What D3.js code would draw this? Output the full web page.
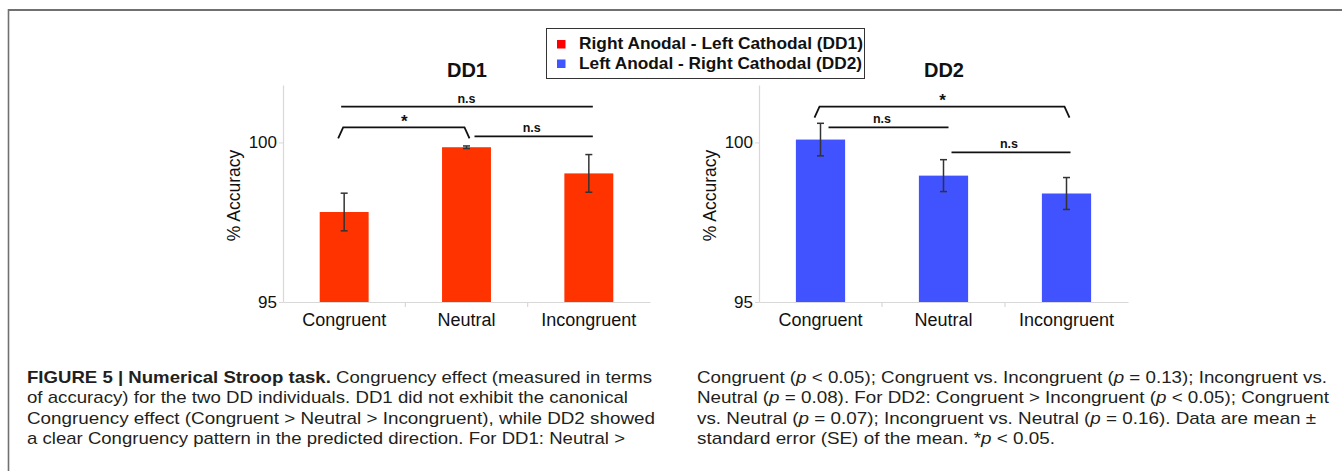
<!DOCTYPE html>
<html>
<head>
<meta charset="utf-8">
<script src="https://cdn.jsdelivr.net/npm/d3@7"></script>
<style>
  html, body { margin: 0; padding: 0; background: #fff; }
  svg { display: block; }
</style>
</head>
<body>
<svg id="chart" width="1342" height="471"></svg>
<script>
// ---------------- data ----------------
const categories = ["Congruent", "Neutral", "Incongruent"];
const dd1Means = [97.82, 99.85, 99.03];
const dd1SE = [0.59, 0.04, 0.59];
const dd2Means = [100.09, 98.96, 98.40];
const dd2SE = [0.51, 0.50, 0.50];
const yDomain = [95, 101.8];
const yTicks = [95, 100];
const legendLabels = ["Right Anodal - Left Cathodal (DD1)", "Left Anodal - Right Cathodal (DD2)"];
const panelTitles = ["DD1", "DD2"];
const yLabel = "% Accuracy";
// significance brackets: from/to category index, level (value units), label, legs (bracket ends drop)
const dd1Sig = [
  { from: 0, to: 2, level: 101.12, label: "n.s", legs: false },
  { from: 0, to: 1, level: 100.47, label: "*", legs: true },
  { from: 1, to: 2, level: 100.19, label: "n.s", legs: false }
];
const dd2Sig = [
  { from: 0, to: 2, level: 101.12, label: "*", legs: true },
  { from: 0, to: 1, level: 100.47, label: "n.s", legs: false },
  { from: 1, to: 2, level: 99.69, label: "n.s", legs: false }
];

// caption lines (segments: [text, style]) style: b = bold, i = italic, r = regular
const captionCol1 = [
  [["FIGURE 5 | Numerical Stroop task.", "b"], [" Congruency effect (measured in terms", "r"]],
  [["of accuracy) for the two DD individuals. DD1 did not exhibit the canonical", "r"]],
  [["Congruency effect (Congruent > Neutral > Incongruent), while DD2 showed", "r"]],
  [["a clear Congruency pattern in the predicted direction. For DD1: Neutral >", "r"]]
];
const captionCol2 = [
  [["Congruent (", "r"], ["p", "i"], [" < 0.05); Congruent vs. Incongruent (", "r"], ["p", "i"], [" = 0.13); Incongruent vs.", "r"]],
  [["Neutral (", "r"], ["p", "i"], [" = 0.08). For DD2: Congruent > Incongruent (", "r"], ["p", "i"], [" < 0.05); Congruent", "r"]],
  [["vs. Neutral (", "r"], ["p", "i"], [" = 0.07); Incongruent vs. Neutral (", "r"], ["p", "i"], [" = 0.16). Data are mean ±", "r"]],
  [["standard error (SE) of the mean. *", "r"], ["p", "i"], [" < 0.05.", "r"]]
];
const captionWidths1 = [625, 601, 628, 598];
const captionWidths2 = [630, 632, 619, 358];

// ---------------- drawing ----------------
const svg = d3.select("#chart");
const FONT = "'Liberation Sans', Arial, Helvetica, sans-serif";

// frame
svg.append("line").attr("x1", 8).attr("x2", 1342).attr("y1", 10).attr("y2", 10)
  .attr("stroke", "#707070").attr("stroke-width", 2);
svg.append("line").attr("x1", 8.5).attr("x2", 8.5).attr("y1", 9).attr("y2", 471)
  .attr("stroke", "#707070").attr("stroke-width", 1.6);

const panels = [
  { title: panelTitles[0], means: dd1Means, se: dd1SE, sig: dd1Sig, color: "#ff3300",
    x0: 283, x1: 650, titleX: 467 },
  { title: panelTitles[1], means: dd2Means, se: dd2SE, sig: dd2Sig, color: "#4152ff",
    x0: 759, x1: 1128, titleX: 944 }
];

const yTop = 85, yBottom = 302;

panels.forEach(p => {
  const g = svg.append("g");
  const x = d3.scaleBand().domain(categories).range([p.x0, p.x1])
    .paddingInner(0.6).paddingOuter(0.3);
  const y = d3.scaleLinear().domain(yDomain).range([yBottom, yTop]);

  // y axis
  const ya = g.append("g").attr("transform", `translate(${p.x0},0)`)
    .call(d3.axisLeft(y).tickValues(yTicks).tickFormat(d3.format("d")).tickSize(4).tickSizeOuter(0).tickPadding(2));
  ya.select(".domain").attr("stroke", "#d8d8d8").attr("stroke-width", 1.2);
  ya.selectAll(".tick line").attr("stroke", "#d8d8d8");
  ya.selectAll(".tick text").attr("font-family", FONT).attr("font-size", 17).attr("fill", "#111");

  // x axis
  const xa = g.append("g").attr("transform", `translate(0,${yBottom})`)
    .call(d3.axisBottom(x).tickSize(0).tickSizeOuter(0).tickPadding(11));
  xa.select(".domain").attr("stroke", "#d8d8d8").attr("stroke-width", 1.2);
  xa.selectAll(".tick text").attr("font-family", FONT).attr("font-size", 18).attr("fill", "#111");
  // boundary ticks between categories
  const bounds = categories.slice(1).map(c => x(c) - x.step() * x.paddingInner() / 2);
  g.selectAll("line.bt").data(bounds).join("line").attr("class", "bt")
    .attr("x1", d => d).attr("x2", d => d).attr("y1", yBottom).attr("y2", yBottom + 5)
    .attr("stroke", "#d8d8d8").attr("stroke-width", 1.2);

  // bars
  g.selectAll("rect.bar").data(p.means).join("rect").attr("class", "bar")
    .attr("x", (d, i) => x(categories[i]))
    .attr("width", x.bandwidth())
    .attr("y", d => y(d))
    .attr("height", d => yBottom - y(d))
    .attr("fill", p.color);

  // error bars
  const cx = i => x(categories[i]) + x.bandwidth() / 2;
  const eb = g.selectAll("g.eb").data(p.means).join("g").attr("class", "eb");
  eb.append("line").attr("x1", (d, i) => cx(i)).attr("x2", (d, i) => cx(i))
    .attr("y1", (d, i) => y(d + p.se[i])).attr("y2", (d, i) => y(d - p.se[i]))
    .attr("stroke", "#333").attr("stroke-width", 1.5);
  [1, -1].forEach(s => {
    eb.append("line").attr("x1", (d, i) => cx(i) - 3.5).attr("x2", (d, i) => cx(i) + 3.5)
      .attr("y1", (d, i) => y(d + s * p.se[i])).attr("y2", (d, i) => y(d + s * p.se[i]))
      .attr("stroke", "#333").attr("stroke-width", 1.5);
  });

  // significance brackets
  p.sig.forEach(s => {
    const yy = y(s.level);
    const a = cx(s.from), b = cx(s.to);
    if (s.legs) {
      const pts = [[a - 6, yy + 11], [a - 1, yy], [b - 2, yy], [b + 3, yy + 11]];
      g.append("path").attr("d", d3.line()(pts)).attr("fill", "none")
        .attr("stroke", "#111").attr("stroke-width", 1.8);
    } else {
      const xa1 = s.from === 0 ? a - 3 + (p.title === "DD2" ? 11 : 0) : a + 8;
      const xb1 = s.to === 2 ? b + 4 : b + 5;
      g.append("line").attr("x1", xa1).attr("x2", xb1).attr("y1", yy).attr("y2", yy)
        .attr("stroke", "#111").attr("stroke-width", 1.8);
    }
    const mid = (a + b) / 2 + (s.from === 1 ? 4 : 0);
    g.append("text").attr("x", s.label === "*" ? mid - 1 : mid)
      .attr("y", s.label === "*" ? yy - 2 : yy - 4)
      .attr("text-anchor", "middle").attr("font-family", FONT).attr("font-weight", "bold")
      .attr("font-size", s.label === "*" ? 17 : 12.5).attr("fill", "#111")
      .attr("dy", s.label === "*" ? "0.1em" : 0)
      .text(s.label);
  });

  // title
  g.append("text").attr("x", p.titleX).attr("y", 77).attr("text-anchor", "middle")
    .attr("font-family", FONT).attr("font-weight", "bold").attr("font-size", 20).attr("fill", "#111")
    .text(p.title);

  // y label
  g.append("text").attr("transform", `translate(${p.x0 - 43},${(yTop + yBottom) / 2 + 2}) rotate(-90)`)
    .attr("text-anchor", "middle").attr("font-family", FONT).attr("font-size", 17.5).attr("fill", "#111")
    .text(yLabel);
});

// legend
const lg = svg.append("g");
lg.append("rect").attr("x", 546.5).attr("y", 28.5).attr("width", 318).attr("height", 50)
  .attr("fill", "#fff").attr("stroke", "#333").attr("stroke-width", 1);
const legendColors = ["#ff0000", "#3f55ff"];
legendLabels.forEach((t, i) => {
  lg.append("rect").attr("x", 557).attr("y", 40 + i * 19.5).attr("width", 8.5).attr("height", 8.5)
    .attr("fill", legendColors[i]);
  lg.append("text").attr("x", 579).attr("y", 49 + i * 19.5)
    .attr("font-family", FONT).attr("font-weight", "bold").attr("font-size", 16.5).attr("fill", "#111")
    .attr("textLength", i === 0 ? 284 : 283).attr("lengthAdjust", "spacingAndGlyphs")
    .text(t);
});

// caption
function drawCaption(lines, x0, widths) {
  lines.forEach((segs, li) => {
    const t = svg.append("text").attr("x", x0).attr("y", 382.5 + li * 20.5)
      .attr("font-family", FONT).attr("font-size", 17).attr("fill", "#231f20")
      .attr("textLength", widths[li]).attr("lengthAdjust", "spacingAndGlyphs");
    segs.forEach(([txt, st]) => {
      t.append("tspan").attr("font-weight", st === "b" ? "bold" : "normal")
        .attr("font-style", st === "i" ? "italic" : "normal").text(txt);
    });
  });
}
drawCaption(captionCol1, 27, captionWidths1);
drawCaption(captionCol2, 697, captionWidths2);
</script>
</body>
</html>
